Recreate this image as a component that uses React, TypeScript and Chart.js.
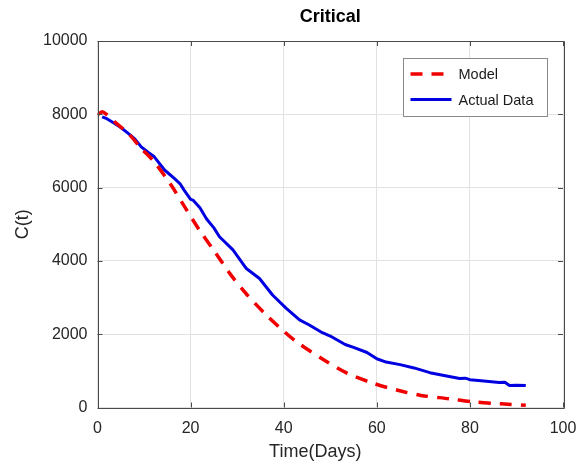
import React, { useEffect, useRef } from "react";
import { Chart, registerables } from "chart.js";

Chart.register(...registerables);

const chartTitle = "Critical";
const xAxisTitle = "Time(Days)";
const yAxisTitle = "C(t)";
const seriesNames = ["Model", "Actual Data"];

const xTicksMax = 100;
const xTickStep = 20;
const yTicksMax = 10000;
const yTickStep = 2000;

const modelDays = [0, 1, 2, 4, 6.6, 9.4, 12.2, 15.8, 18.7, 21.9, 25.2, 28.4, 31.9, 35.9, 40.1, 43.1, 49, 53.7, 59.5, 64.5, 69.5, 75.5, 81, 86.7, 92];
const modelValues = [7980, 8070, 7990, 7760, 7480, 7070, 6700, 6070, 5480, 4840, 4250, 3660, 3110, 2570, 2070, 1760, 1270, 930, 650, 470, 330, 240, 150, 100, 60];

const actualDays = [1, 2, 3.7, 5, 6.6, 8, 9.4, 11, 12.2, 14.4, 16.5, 17.7, 18.6, 20, 20.5, 22, 23.4, 25, 26.2, 29.1, 31.9, 34.8, 37.6, 40.5, 43.4, 45.5, 48.3, 50, 53.2, 55, 57.9, 60, 62, 65, 68, 71.4, 75, 77.8, 79, 80, 83, 86.3, 87.5, 88.5, 90, 92];
const actualValues = [7930, 7880, 7750, 7640, 7480, 7330, 7110, 6950, 6840, 6480, 6250, 6110, 5930, 5680, 5660, 5450, 5150, 4900, 4660, 4300, 3800, 3520, 3070, 2710, 2390, 2250, 2040, 1950, 1720, 1640, 1500, 1330, 1240, 1170, 1080, 950, 860, 790, 800, 760, 720, 680, 690, 600, 610, 600];

const FONT = "'Liberation Sans', Arial, Helvetica, sans-serif";
const RED = "rgb(240,0,0)";
const BLUE = "rgb(0,0,225)";
const AXIS = "#4a4a4a";

const framePlugin = {
  id: "frameAndLegend",
  afterDatasetsDraw(chart: any) {
    const { ctx, chartArea, scales } = chart;
    const { left, right, top, bottom } = chartArea;
    ctx.save();
    ctx.strokeStyle = AXIS;
    ctx.lineWidth = 1;
    ctx.beginPath();
    ctx.rect(Math.round(left) + 0.5, Math.round(top) + 0.5, Math.round(right - left), Math.round(bottom - top));
    ctx.stroke();
    const tl = 5;
    ctx.beginPath();
    scales.x.ticks.forEach((t: any) => {
      const px = Math.round(scales.x.getPixelForValue(t.value)) + 0.5;
      ctx.moveTo(px, bottom);
      ctx.lineTo(px, bottom - tl);
      ctx.moveTo(px, top);
      ctx.lineTo(px, top + tl);
    });
    scales.y.ticks.forEach((t: any) => {
      const py = Math.round(scales.y.getPixelForValue(t.value)) + 0.5;
      ctx.moveTo(left, py);
      ctx.lineTo(left + tl, py);
      ctx.moveTo(right, py);
      ctx.lineTo(right - tl, py);
    });
    ctx.stroke();

    // x-axis title (sits slightly left of the axes centre, as in the reference)
    ctx.fillStyle = "#262626";
    ctx.font = `18px ${FONT}`;
    ctx.textAlign = "center";
    ctx.textBaseline = "middle";
    ctx.fillText(xAxisTitle, (left + right) / 2 - 15, chart.height - 12);

    const bw = 144;
    const bh = 58;
    const bx = Math.round(right - 16 - bw) + 0.5;
    const by = Math.round(top + 17) + 0.5;
    ctx.fillStyle = "#ffffff";
    ctx.fillRect(bx, by, bw, bh);
    ctx.strokeStyle = "#8a8a8a";
    ctx.strokeRect(bx, by, bw, bh);
    const ds = chart.data.datasets;
    const rows = [by + 15.5, by + 41];
    ds.forEach((d: any, i: number) => {
      ctx.beginPath();
      ctx.strokeStyle = d.borderColor;
      ctx.lineWidth = d.borderWidth;
      ctx.setLineDash(d.borderDash || []);
      ctx.moveTo(bx + 7, rows[i]);
      ctx.lineTo(bx + 48, rows[i]);
      ctx.stroke();
      ctx.setLineDash([]);
      ctx.fillStyle = "#1a1a1a";
      ctx.font = `14.5px ${FONT}`;
      ctx.textBaseline = "middle";
      ctx.textAlign = "left";
      ctx.fillText(d.label, bx + 55, rows[i] + 1);
    });
    ctx.restore();
  },
};

export default function App() {
  const ref = useRef<HTMLCanvasElement | null>(null);

  useEffect(() => {
    document.body.style.margin = "0";
    const canvas = ref.current;
    if (!canvas) return;
    const chart = new Chart(canvas, {
      type: "line",
      data: {
        datasets: [
          {
            label: seriesNames[0],
            data: modelDays.map((d, i) => ({ x: d, y: modelValues[i] })),
            borderColor: RED,
            backgroundColor: RED,
            borderWidth: 3.5,
            borderDash: [12, 9],
            pointRadius: 0,
            tension: 0.3,
            fill: false,
          },
          {
            label: seriesNames[1],
            data: actualDays.map((d, i) => ({ x: d, y: actualValues[i] })),
            borderColor: BLUE,
            backgroundColor: BLUE,
            borderWidth: 3,
            pointRadius: 0,
            tension: 0,
            borderJoinStyle: "round",
            fill: false,
          },
        ],
      },
      options: {
        animation: false,
        responsive: true,
        maintainAspectRatio: false,
        layout: { padding: { top: 0, left: 0, right: 14, bottom: 0 } },
        plugins: {
          legend: { display: false },
          tooltip: { enabled: false },
          title: {
            display: true,
            text: chartTitle,
            fullSize: false,
            color: "#000",
            font: { family: FONT, size: 18, weight: "bold" },
            padding: { top: 6, bottom: 13.4 },
          },
        },
        scales: {
          x: {
            type: "linear",
            min: 0,
            max: xTicksMax,
            ticks: {
              stepSize: xTickStep,
              padding: 11,
              color: "#262626",
              font: { family: FONT, size: 16 },
              maxRotation: 0,
              callback: (v: any) => String(v),
            },
            grid: { color: "#e2e2e2", drawTicks: false },
            border: { display: false },
            title: { display: false },
            afterFit: (s: any) => {
              s.height = 56.5;
              s.paddingLeft = 0;
              s.paddingRight = 0;
            },
          },
          y: {
            type: "linear",
            min: 0,
            max: yTicksMax,
            ticks: {
              stepSize: yTickStep,
              padding: 10,
              color: "#262626",
              font: { family: FONT, size: 16 },
              callback: (v: any) => String(v),
            },
            grid: { color: "#e2e2e2", drawTicks: false },
            border: { display: false },
            title: {
              display: true,
              text: yAxisTitle,
              color: "#262626",
              font: { family: FONT, size: 18 },
              padding: { top: 12, bottom: 0 },
            },
            afterFit: (s: any) => {
              s.width = 97.5;
              s.paddingTop = 0;
              s.paddingBottom = 0;
            },
          },
        },
      } as any,
      plugins: [framePlugin],
    });
    return () => chart.destroy();
  }, []);

  return (
    <div style={{ position: "absolute", left: 0, top: 0, width: 577, height: 464 }}>
      <canvas ref={ref} />
    </div>
  );
}
